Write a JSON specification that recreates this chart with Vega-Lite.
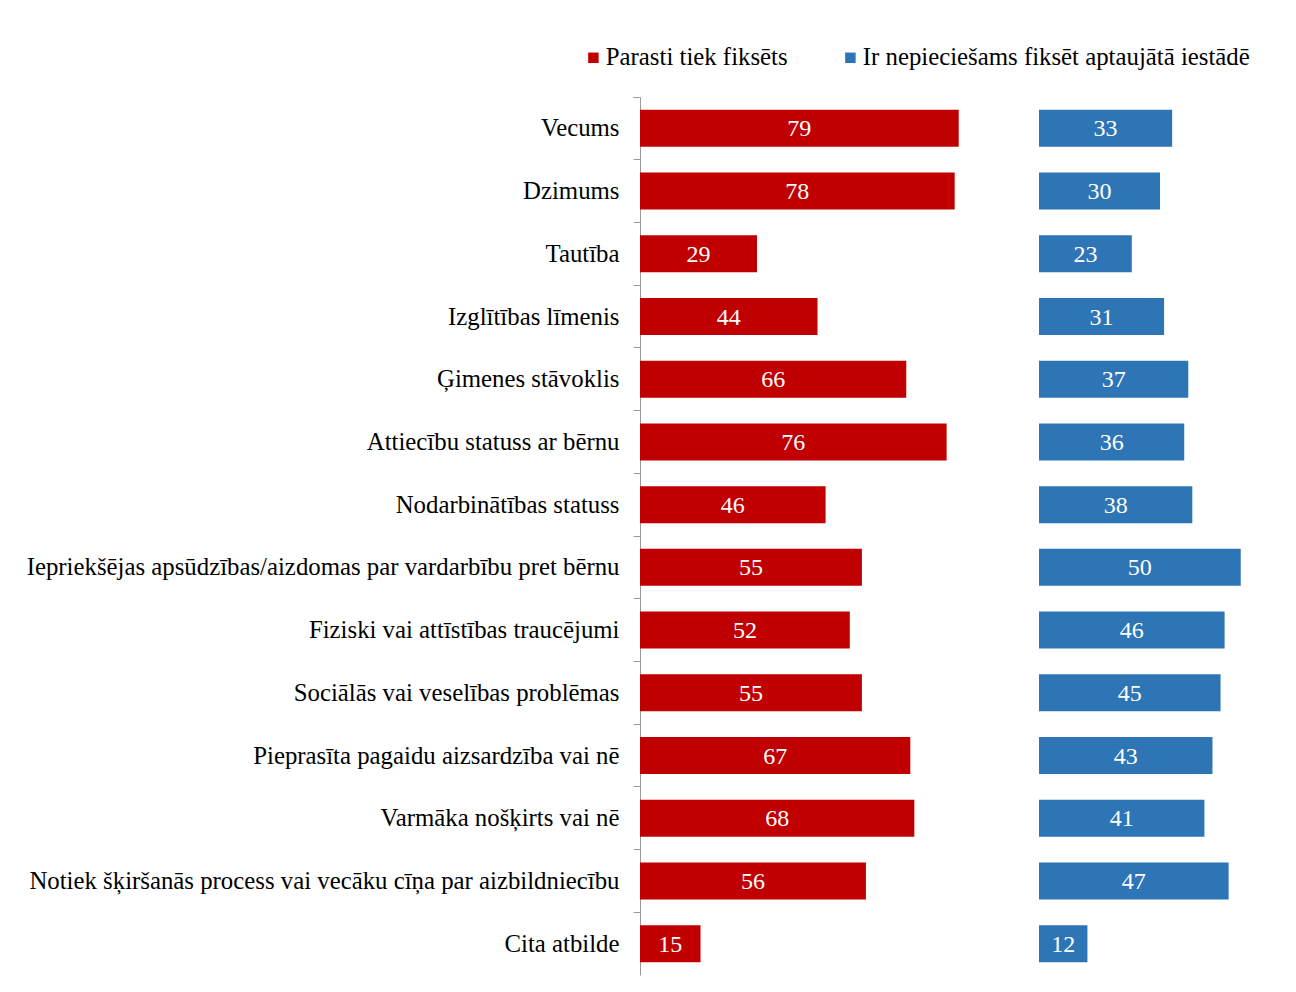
{
  "$schema": "https://vega.github.io/schema/vega-lite/v6.json",
  "width": 656,
  "height": 878,
  "autosize": "none",
  "padding": {"left": 640, "top": 97, "right": 0, "bottom": 17},
  "background": "white",
  "config": {
    "view": {"stroke": null},
    "font": "Liberation Serif"
  },
  "data": {
    "values": [
      {"kategorija": "Vecums", "parasti": 79, "nepieciesams": 33},
      {"kategorija": "Dzimums", "parasti": 78, "nepieciesams": 30},
      {"kategorija": "Tautība", "parasti": 29, "nepieciesams": 23},
      {"kategorija": "Izglītības līmenis", "parasti": 44, "nepieciesams": 31},
      {"kategorija": "Ģimenes stāvoklis", "parasti": 66, "nepieciesams": 37},
      {"kategorija": "Attiecību statuss ar bērnu", "parasti": 76, "nepieciesams": 36},
      {"kategorija": "Nodarbinātības statuss", "parasti": 46, "nepieciesams": 38},
      {"kategorija": "Iepriekšējas apsūdzības/aizdomas par vardarbību pret bērnu", "parasti": 55, "nepieciesams": 50},
      {"kategorija": "Fiziski vai attīstības traucējumi", "parasti": 52, "nepieciesams": 46},
      {"kategorija": "Sociālās vai veselības problēmas", "parasti": 55, "nepieciesams": 45},
      {"kategorija": "Pieprasīta pagaidu aizsardzība vai nē", "parasti": 67, "nepieciesams": 43},
      {"kategorija": "Varmāka nošķirts vai nē", "parasti": 68, "nepieciesams": 41},
      {"kategorija": "Notiek šķiršanās process vai vecāku cīņa par aizbildniecību", "parasti": 56, "nepieciesams": 47},
      {"kategorija": "Cita atbilde", "parasti": 15, "nepieciesams": 12}
    ]
  },
  "encoding": {
    "y": {
      "field": "kategorija",
      "type": "nominal",
      "sort": null,
      "title": null,
      "scale": {"paddingInner": 0, "paddingOuter": 0},
      "axis": {
        "bandPosition": 0,
        "tickExtra": true,
        "domainColor": "#9a9a9a",
        "tickColor": "#9a9a9a",
        "tickSize": 7,
        "labelPadding": 14,
        "labelFont": "Liberation Serif",
        "labelFontSize": 24.8,
        "labelColor": "#000000",
        "labelLimit": 700,
        "labelOffset": 1,
        "grid": false
      }
    }
  },
  "layer": [
    {
      "mark": {"type": "bar", "height": {"band": 0.59}},
      "encoding": {
        "x": {"field": "parasti", "type": "quantitative", "scale": {"domain": [0, 162.6], "nice": false, "zero": false}, "axis": null},
        "color": {
          "datum": "Parasti tiek fiksēts",
          "type": "nominal",
          "scale": {
            "domain": ["Parasti tiek fiksēts", "Ir nepieciešams fiksēt aptaujātā iestādē"],
            "range": ["#C00000", "#2E75B6"]
          },
          "legend": {
            "title": null,
            "orient": "none",
            "direction": "horizontal",
            "legendX": -59,
            "legendY": -52,
            "padding": 0,
            "symbolType": "square",
            "symbolSize": 110,
            "symbolStrokeWidth": 0,
            "labelFont": "Liberation Serif",
            "labelFontSize": 24.8,
            "labelColor": "#000000",
            "labelOffset": 0,
            "columnPadding": 50,
            "labelLimit": 600
          }
        }
      }
    },
    {
      "mark": {"type": "text", "color": "white", "font": "Liberation Serif", "fontSize": 24, "baseline": "middle", "align": "center", "dy": 1},
      "encoding": {
        "x": {"field": "parasti", "type": "quantitative", "scale": {"domain": [0, 325.2], "nice": false, "zero": false}, "axis": null},
        "text": {"field": "parasti", "type": "quantitative"}
      }
    },
    {
      "mark": {"type": "bar", "height": {"band": 0.59}},
      "encoding": {
        "x": {"field": "nepieciesams", "type": "quantitative", "scale": {"domain": [-98.9, 63.7], "nice": false, "zero": false}, "axis": null},
        "color": {"datum": "Ir nepieciešams fiksēt aptaujātā iestādē", "type": "nominal"}
      }
    },
    {
      "mark": {"type": "text", "color": "white", "font": "Liberation Serif", "fontSize": 24, "baseline": "middle", "align": "center", "dy": 1},
      "encoding": {
        "x": {"field": "nepieciesams", "type": "quantitative", "scale": {"domain": [-197.8, 127.4], "nice": false, "zero": false}, "axis": null},
        "text": {"field": "nepieciesams", "type": "quantitative"}
      }
    }
  ],
  "resolve": {"scale": {"x": "independent"}}
}
